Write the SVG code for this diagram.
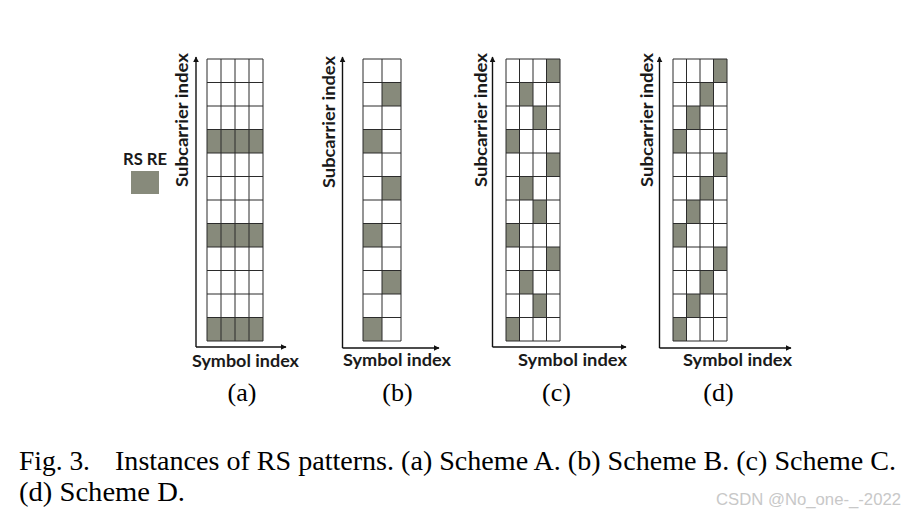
<svg xmlns="http://www.w3.org/2000/svg" width="908" height="516" viewBox="0 0 908 516">
<defs>
<style>
.rs{fill:#878a7b}
.bg{fill:#ffffff}
.grid{fill:none;stroke:#2b2b2b;stroke-width:1}
.ax{fill:none;stroke:#111;stroke-width:1.4}
.lbl{font-family:Lato,"Liberation Sans",sans-serif;font-weight:700;font-size:17px;fill:#1a1a1a}
.sub{font-family:"Liberation Serif","Times New Roman",serif;font-size:26px;fill:#000}
.cap{font-family:"Liberation Serif","Times New Roman",serif;font-size:26.5px;fill:#000}
.wm{font-family:"Liberation Sans",Arial,sans-serif;font-size:16px;fill:#c8c8c8}
</style>
<marker id="arr" viewBox="0 0 10 10" refX="9" refY="5" markerWidth="6" markerHeight="6" markerUnits="userSpaceOnUse" orient="auto">
<path d="M0,0 L10,5 L0,10 z" fill="#111"/>
</marker>
</defs>
<rect width="908" height="516" fill="#ffffff"/>

<g id="legend">
<text class="lbl" x="123" y="165" textLength="44" lengthAdjust="spacingAndGlyphs">RS RE</text>
<rect class="rs" x="131" y="171" width="28" height="23"/>
</g>

<g id="panel-a">
<rect class="bg" x="207" y="59" width="56" height="282"/>
<rect class="rs" x="207" y="129.5" width="56" height="23.5"/>
<rect class="rs" x="207" y="223.5" width="56" height="23.5"/>
<rect class="rs" x="207" y="317.5" width="56" height="23.5"/>
<path class="grid" d="M207,59V341M221,59V341M235,59V341M249,59V341M263,59V341M207,59H263M207,82.5H263M207,106H263M207,129.5H263M207,153H263M207,176.5H263M207,200H263M207,223.5H263M207,247H263M207,270.5H263M207,294H263M207,317.5H263M207,341H263"/>
<text class="lbl" transform="translate(188,187) rotate(-90)" textLength="134" lengthAdjust="spacingAndGlyphs">Subcarrier index</text>
<text class="lbl" x="192" y="367" textLength="107" lengthAdjust="spacingAndGlyphs">Symbol index</text>
<text class="sub" x="242" y="401" text-anchor="middle">(a)</text>
</g>

<g id="panel-b">
<rect class="bg" x="363" y="59" width="38" height="282"/>
<rect class="rs" x="382" y="82.5" width="19" height="23.5"/>
<rect class="rs" x="363" y="129.5" width="19" height="23.5"/>
<rect class="rs" x="382" y="176.5" width="19" height="23.5"/>
<rect class="rs" x="363" y="223.5" width="19" height="23.5"/>
<rect class="rs" x="382" y="270.5" width="19" height="23.5"/>
<rect class="rs" x="363" y="317.5" width="19" height="23.5"/>
<path class="grid" d="M363,59V341M382,59V341M401,59V341M363,59H401M363,82.5H401M363,106H401M363,129.5H401M363,153H401M363,176.5H401M363,200H401M363,223.5H401M363,247H401M363,270.5H401M363,294H401M363,317.5H401M363,341H401"/>
<text class="lbl" transform="translate(335,188) rotate(-90)" textLength="132" lengthAdjust="spacingAndGlyphs">Subcarrier index</text>
<text class="lbl" x="343" y="366" textLength="108" lengthAdjust="spacingAndGlyphs">Symbol index</text>
<text class="sub" x="397.5" y="401" text-anchor="middle">(b)</text>
</g>

<g id="panel-c">
<rect class="bg" x="506" y="59" width="54" height="282"/>
<rect class="rs" x="546.5" y="59" width="13.5" height="23.5"/>
<rect class="rs" x="519.5" y="82.5" width="13.5" height="23.5"/>
<rect class="rs" x="533" y="106" width="13.5" height="23.5"/>
<rect class="rs" x="506" y="129.5" width="13.5" height="23.5"/>
<rect class="rs" x="546.5" y="153" width="13.5" height="23.5"/>
<rect class="rs" x="519.5" y="176.5" width="13.5" height="23.5"/>
<rect class="rs" x="533" y="200" width="13.5" height="23.5"/>
<rect class="rs" x="506" y="223.5" width="13.5" height="23.5"/>
<rect class="rs" x="546.5" y="247" width="13.5" height="23.5"/>
<rect class="rs" x="519.5" y="270.5" width="13.5" height="23.5"/>
<rect class="rs" x="533" y="294" width="13.5" height="23.5"/>
<rect class="rs" x="506" y="317.5" width="13.5" height="23.5"/>
<path class="grid" d="M506,59V341M519.5,59V341M533,59V341M546.5,59V341M560,59V341M506,59H560M506,82.5H560M506,106H560M506,129.5H560M506,153H560M506,176.5H560M506,200H560M506,223.5H560M506,247H560M506,270.5H560M506,294H560M506,317.5H560M506,341H560"/>
<text class="lbl" transform="translate(486.5,187) rotate(-90)" textLength="134" lengthAdjust="spacingAndGlyphs">Subcarrier index</text>
<text class="lbl" x="518" y="366" textLength="109" lengthAdjust="spacingAndGlyphs">Symbol index</text>
<text class="sub" x="556.5" y="401" text-anchor="middle">(c)</text>
</g>

<g id="panel-d">
<rect class="bg" x="673" y="59" width="54" height="282"/>
<rect class="rs" x="713.5" y="59" width="13.5" height="23.5"/>
<rect class="rs" x="700" y="82.5" width="13.5" height="23.5"/>
<rect class="rs" x="686.5" y="106" width="13.5" height="23.5"/>
<rect class="rs" x="673" y="129.5" width="13.5" height="23.5"/>
<rect class="rs" x="713.5" y="153" width="13.5" height="23.5"/>
<rect class="rs" x="700" y="176.5" width="13.5" height="23.5"/>
<rect class="rs" x="686.5" y="200" width="13.5" height="23.5"/>
<rect class="rs" x="673" y="223.5" width="13.5" height="23.5"/>
<rect class="rs" x="713.5" y="247" width="13.5" height="23.5"/>
<rect class="rs" x="700" y="270.5" width="13.5" height="23.5"/>
<rect class="rs" x="686.5" y="294" width="13.5" height="23.5"/>
<rect class="rs" x="673" y="317.5" width="13.5" height="23.5"/>
<path class="grid" d="M673,59V341M686.5,59V341M700,59V341M713.5,59V341M727,59V341M673,59H727M673,82.5H727M673,106H727M673,129.5H727M673,153H727M673,176.5H727M673,200H727M673,223.5H727M673,247H727M673,270.5H727M673,294H727M673,317.5H727M673,341H727"/>
<text class="lbl" transform="translate(652.5,187) rotate(-90)" textLength="134" lengthAdjust="spacingAndGlyphs">Subcarrier index</text>
<text class="lbl" x="683" y="366" textLength="109" lengthAdjust="spacingAndGlyphs">Symbol index</text>
<text class="sub" x="718.5" y="401" text-anchor="middle">(d)</text>
</g>

<g id="connectors">
<path class="ax" d="M196,347V57" marker-end="url(#arr)"/>
<path class="ax" d="M196,347H286" marker-end="url(#arr)"/>
<path class="ax" d="M342.5,348V57" marker-end="url(#arr)"/>
<path class="ax" d="M342.5,348H439" marker-end="url(#arr)"/>
<path class="ax" d="M492.5,347V57" marker-end="url(#arr)"/>
<path class="ax" d="M492.5,347H626" marker-end="url(#arr)"/>
<path class="ax" d="M659.5,348V57" marker-end="url(#arr)"/>
<path class="ax" d="M659.5,348H791" marker-end="url(#arr)"/>
</g>

<g id="caption">
<text class="cap" x="19" y="470" textLength="71" lengthAdjust="spacingAndGlyphs">Fig. 3.</text>
<text class="cap" x="115" y="470" textLength="781" lengthAdjust="spacingAndGlyphs">Instances of RS patterns. (a) Scheme A. (b) Scheme B. (c) Scheme C.</text>
<text class="cap" x="19" y="501" textLength="166" lengthAdjust="spacingAndGlyphs">(d) Scheme D.</text>
</g>

<text class="wm" x="716" y="505" textLength="185" lengthAdjust="spacingAndGlyphs">CSDN @No_one-_-2022</text>
</svg>
